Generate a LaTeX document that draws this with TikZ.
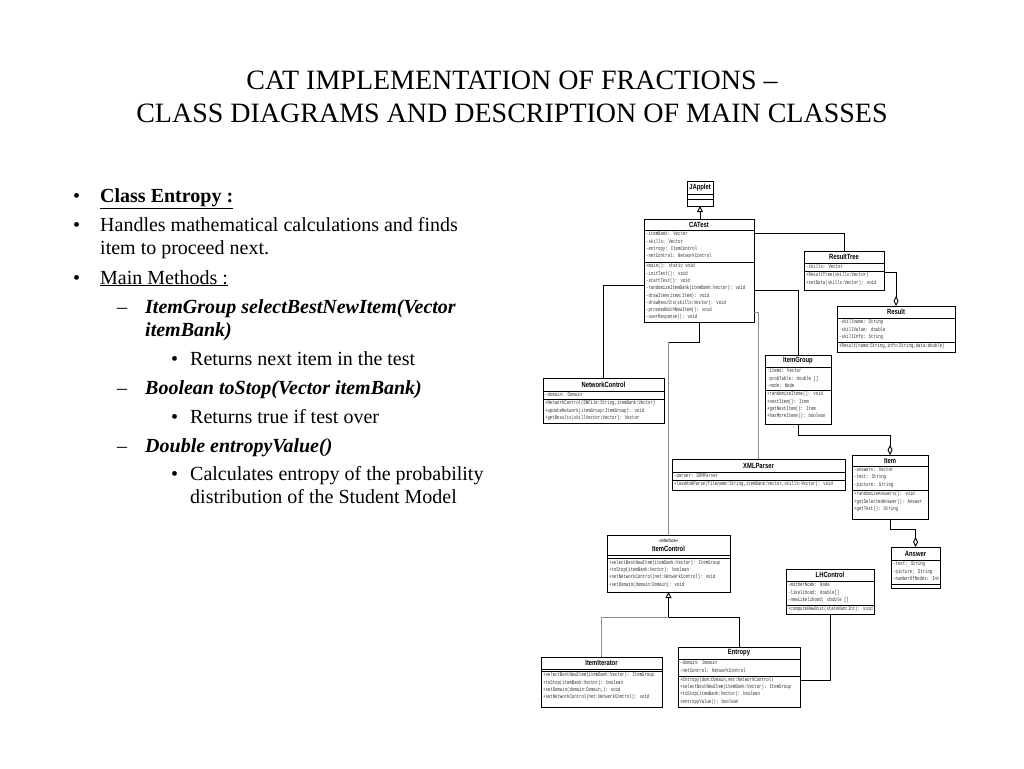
\documentclass[tikz,border=0pt]{standalone}
\usepackage{fontspec}
\setmainfont{Liberation Serif}
\newfontfamily\umlmono[FakeStretch=0.70]{Liberation Mono}
\newfontfamily\umlsans[FakeStretch=0.78]{Liberation Sans}
\usetikzlibrary{arrows.meta}

\tikzset{
  cls/.style={draw=black, line width=0.9pt, fill=white, inner sep=0pt, outer sep=0pt},
  sepline/.style={line width=0.6pt},
  ctitle/.style={font=\umlsans\bfseries\fontsize{7.5}{8}\selectfont, inner sep=0pt},
  stereo/.style={font=\umlsans\fontsize{5}{6}\selectfont, inner sep=0pt},
  attr/.style={font=\umlmono\fontsize{5.7}{7.3}\selectfont, text=black!80, align=left, inner sep=0pt, anchor=north west},
  conn/.style={line width=0.9pt, black},
  gconn/.style={line width=0.9pt, black!45},
  inherit/.style={conn, -{Triangle[open, length=6pt, width=6pt]}},
  aggr/.style={conn, -{Diamond[open, length=10pt, width=5pt]}},
  txt/.style={font=\fontsize{20}{24}\selectfont, anchor=base west, inner sep=0pt},
  ttl/.style={font=\fontsize{28}{33}\selectfont, anchor=base, inner sep=0pt},
}
\newcommand\umlclass[5]{\node[cls, anchor=north west, minimum width={(#4-#2)*1pt}, minimum height={(#5-#3)*1pt}] (#1) at (#2,#3) {};}

\begin{document}
\begin{tikzpicture}[x=1pt, y=-1pt]
\useasboundingbox (0,0) rectangle (1024,768);
\fill[white] (0,0) rectangle (1024,768);

% ---------- Title ----------
\node[ttl] (t1) at (512,89) {CAT IMPLEMENTATION OF FRACTIONS –};
\node[ttl] (t2) at (512,122) {CLASS DIAGRAMS AND DESCRIPTION OF MAIN CLASSES};

% ---------- Left text ----------
\node[txt] (b1) at (73,202) {•};
\node[txt] (l1) at (100,202) {\textbf{\underline{Class Entropy :}}};
\node[txt] (b2) at (73,231) {•};
\node[txt] (l2) at (100,231) {Handles mathematical calculations and finds};
\node[txt] (l2b) at (100,254) {item to proceed next.};
\node[txt] (b3) at (73,284) {•};
\node[txt] (l3) at (100,284) {\underline{Main Methods :}};
\node[txt] (d1) at (117,313) {–};
\node[txt] (l4) at (145,313) {\textbf{\textit{ItemGroup selectBestNewItem(Vector}}};
\node[txt] (l4b) at (145,336) {\textbf{\textit{itemBank)}}};
\node[txt] (s1) at (171,365) {•};
\node[txt] (l5) at (190,365) {Returns next item in the test};
\node[txt] (d2) at (117,394) {–};
\node[txt] (l6) at (145,394) {\textbf{\textit{Boolean toStop(Vector itemBank)}}};
\node[txt] (s2) at (171,423) {•};
\node[txt] (l7) at (190,423) {Returns true if test over};
\node[txt] (d3) at (117,452) {–};
\node[txt] (l8) at (145,452) {\textbf{\textit{Double entropyValue()}}};
\node[txt] (s3) at (171,480) {•};
\node[txt] (l9) at (190,480) {Calculates entropy of the probability};
\node[txt] (l9b) at (190,503) {distribution of the Student Model};

% ---------- JApplet ----------
\umlclass{JApplet}{687}{181}{713}{206}
\draw[sepline] (687,194) -- (713,194) (687,199) -- (713,199);
\node[ctitle] (japT) at (700,188) {JApplet};

% ---------- CATest ----------
\umlclass{CATest}{644}{219}{754}{322}
\draw[sepline] (644,230) -- (754,230) (644,262) -- (754,262);
\node[ctitle] (catT) at (699,225) {CATest};
\node[attr] (catA) at (646,231.5) {-itemBank: Vector\\-skills: Vector\\-entropy: ItemControl\\-netControl: NetworkControl};
\node[attr] (catM) at (646,263.5) {+main(): static void\\-initTest(): void\\-startTest(): void\\-randomizeItemBank(itemBank:Vector): void\\-drawItem(item:Item): void\\-drawResults(skills:Vector): void\\-proceedWithNewItem(): void\\-userResponse(): void};

% ---------- ResultTree ----------
\umlclass{ResultTree}{804}{251}{884}{290}
\draw[sepline] (804,263) -- (884,263) (804,271) -- (884,271);
\node[ctitle] (rtT) at (844,257) {ResultTree};
\node[attr] (rtA) at (806,264) {-skills: Vector};
\node[attr] (rtM) at (806,272.5) {+ResultTree(skills:Vector)\\+setData(skills:Vector): void};

% ---------- Result ----------
\umlclass{Result}{837}{306}{955}{352}
\draw[sepline] (837,318) -- (955,318) (837,342) -- (955,342);
\node[ctitle] (resT) at (896,312) {Result};
\node[attr] (resA) at (839,319.5) {-skillname: String\\-skillValue: double\\-skillInfo: String};
\node[attr] (resM) at (839,343.5) {+Result(name:String,info:String,data:double)};

% ---------- NetworkControl ----------
\umlclass{NetworkControl}{543}{378}{664}{423}
\draw[sepline] (543,391) -- (664,391) (543,399) -- (664,399);
\node[ctitle] (ncT) at (603.5,384.5) {NetworkControl};
\node[attr] (ncA) at (545,392.5) {-domain: Domain};
\node[attr] (ncM) at (545,400.5) {+NetworkControl(DNFile:String,itemBank:Vector)\\+updateNetwork(itemGroup:ItemGroup): void\\+getResults(skillVector:Vector): Vector};

% ---------- ItemGroup ----------
\umlclass{ItemGroup}{765}{355}{831}{424}
\draw[sepline] (765,367) -- (831,367) (765,390) -- (831,390);
\node[ctitle] (igT) at (798,361) {ItemGroup};
\node[attr] (igA) at (767,368.5) {-items: Vector\\-probTable: double []\\-node: Node};
\node[attr] (igM) at (767,391.5) {+randomizeItems(): void\\+nextItem(): Item\\+getNextItem(): Item\\+hasMoreItems(): boolean};

% ---------- XMLParser ----------
\umlclass{XMLParser}{672}{459}{845}{490}
\draw[sepline] (672,472) -- (845,472) (672,480) -- (845,480);
\node[ctitle] (xpT) at (758.5,465.5) {XMLParser};
\node[attr] (xpA) at (674,473) {-parser: DOMParser};
\node[attr] (xpM) at (674,481) {+loadAndParse(filename:String,itemBank:Vector,skills:Vector): void};

% ---------- Item ----------
\umlclass{Item}{852}{455}{928}{519}
\draw[sepline] (852,466) -- (928,466) (852,490) -- (928,490);
\node[ctitle] (itT) at (890,460.5) {Item};
\node[attr] (itA) at (854,467.5) {-answers: Vector\\-text: String\\-picture: String};
\node[attr] (itM) at (854,491.5) {+randomizeAnswers(): void\\+getSelectedAnswer(): Answer\\+getText(): String};

% ---------- Answer ----------
\umlclass{Answer}{891}{547}{940}{588}
\draw[sepline] (891,560) -- (940,560) (891,584) -- (940,584);
\node[ctitle] (anT) at (915.5,553.5) {Answer};
\node[attr] (anA) at (893,561.5) {-text: String\\-picture: String\\-numberOfNodes: Int};

% ---------- ItemControl ----------
\umlclass{ItemControl}{607}{535}{730}{592}
\draw[sepline] (607,555.5) -- (730,555.5) (607,558) -- (730,558);
\node[stereo] (icS) at (668.5,541) {«interface»};
\node[ctitle] (icT) at (668.5,549) {ItemControl};
\node[attr] (icM) at (609,560) {+selectBestNewItem(itemBank:Vector): ItemGroup\\+toStop(itemBank:Vector): boolean\\+setNetworkControl(net:NetworkControl): void\\+setDomain(domain:Domain): void};

% ---------- LHControl ----------
\umlclass{LHControl}{786}{569}{874}{614}
\draw[sepline] (786,581) -- (874,581) (786,605) -- (874,605);
\node[ctitle] (lhT) at (830,575) {LHControl};
\node[attr] (lhA) at (788,582.5) {-motherNode: Node\\-likelihood: double[]\\-newLikelihood: double []};
\node[attr] (lhM) at (788,606.5) {+computeNewDist(stateNum:Int): void};

% ---------- ItemIterator ----------
\umlclass{ItemIterator}{541}{657}{662}{707}
\draw[sepline] (541,669) -- (662,669) (541,671) -- (662,671);
\node[ctitle] (iiT) at (601.5,663) {ItemIterator};
\node[attr] (iiM) at (543,672.5) {+selectBestNewItem(itemBank:Vector): ItemGroup\\+toStop(itemBank:Vector): boolean\\+setDomain(domain:Domain,): void\\+setNetworkControl(net:NetworkControl): void};

% ---------- Entropy ----------
\umlclass{Entropy}{678}{647}{800}{707}
\draw[sepline] (678,659) -- (800,659) (678,676) -- (800,676);
\node[ctitle] (enT) at (739,653) {Entropy};
\node[attr] (enA) at (680,660.5) {-domain: Domain\\-netControl: NetworkControl};
\node[attr] (enM) at (680,677) {+Entropy(dom:Domain,net:NetworkControl)\\+selectBestNewItem(itemBank:Vector): ItemGroup\\+toStop(itemBank:Vector): boolean\\+entropyValue(): boolean};

% ---------- Connectors ----------
\draw[inherit] (CATest.north -| JApplet.south) -- (JApplet.south);
\draw[conn] ([yshift=-14pt]CATest.north east) -| (ResultTree.north);
\draw[conn] ([yshift=-71pt]CATest.north east) -| (ItemGroup.north);
\draw[gconn] ([yshift=-93pt]CATest.north east) -| ([xshift=86pt]XMLParser.north west);
\draw[conn] ([yshift=-66pt]CATest.north west) -| (NetworkControl.north);
\path (CATest.south -| ItemControl.north) ++(0,20) coordinate (c1);
\draw[conn] (CATest.south) |- (c1);
\draw[gconn] (c1) -- (ItemControl.north);
\draw[aggr] ([yshift=-21pt]ResultTree.north east) -| (Result.north);
\draw[aggr] (ItemGroup.south) -- ++(0,11) -| (Item.north);
\draw[aggr] (Item.south) -- ++(0,10) -| (Answer.north);
\path (ItemControl.south) ++(0,25) coordinate (j);
\draw[gconn] (ItemIterator.north) |- (j);
\draw[conn] (Entropy.north) |- (j);
\draw[inherit] (j) -- (ItemControl.south);
\draw[conn] (LHControl.south) |- ([yshift=-33pt]Entropy.north east);
\end{tikzpicture}
\end{document}
